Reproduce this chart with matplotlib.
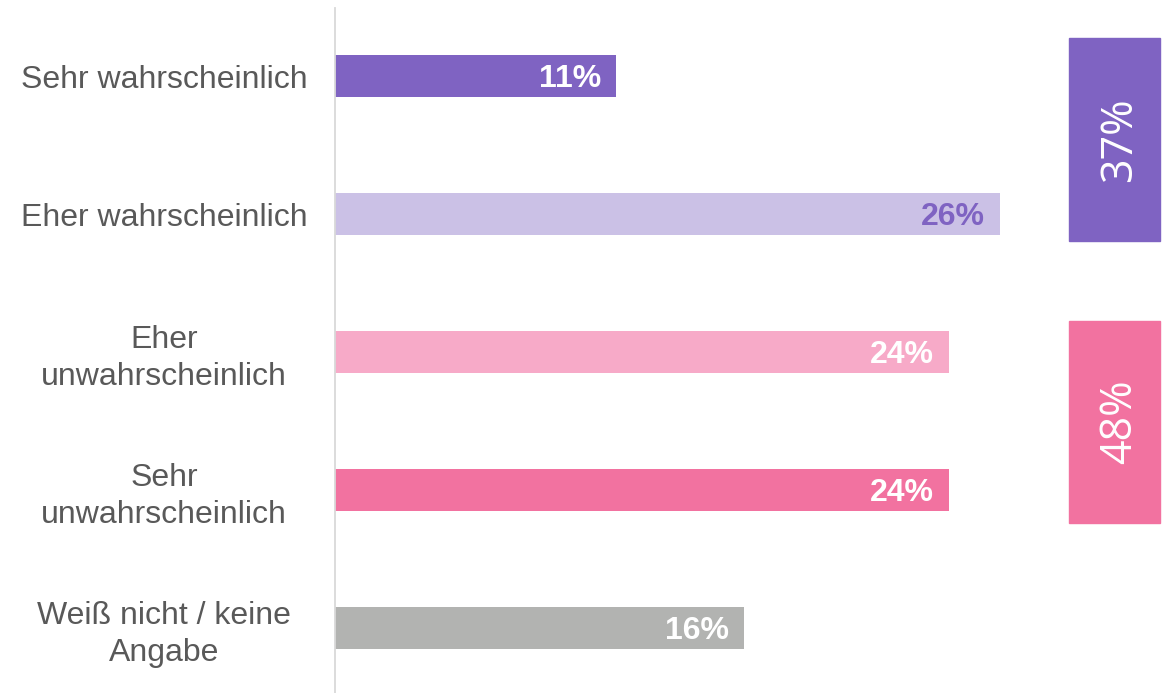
import matplotlib.pyplot as plt
from matplotlib.patches import Rectangle

plt.rcParams['font.family'] = ['Liberation Sans', 'DejaVu Sans']

categories = ["Sehr wahrscheinlich", "Eher wahrscheinlich", "Eher\nunwahrscheinlich",
              "Sehr\nunwahrscheinlich", "Weiß nicht / keine\nAngabe"]
values = [11, 26, 24, 24, 16]
bar_colors = ["#7F63C2", "#CBC1E6", "#F7AAC8", "#F272A0", "#B2B3B1"]
label_colors = ["white", "#7F63C2", "white", "white", "white"]

# groups summed in the side boxes: (first index, last index, colour)
groups = [(0, 1, "#7F63C2"), (2, 3, "#F272A0")]
box_pads = [(0.275, 0.196), (0.225, 0.239)]

W, H = 1163, 693
fig = plt.figure(figsize=(W / 100, H / 100), dpi=100)
px = 25.58  # pixels per percent
ax = fig.add_axes([335 / W, 0, (W - 335) / W, (H - 8) / H])
ax.set_xlim(0, (W - 335) / px)
ax.set_ylim(4 + (H - 628) / 138, -(76 - 8) / 138)

y = list(range(len(values)))
ax.barh(y, values, height=0.31, color=bar_colors)
for i, v in enumerate(values):
    ax.text(v - 15 / px, i + 0.02, f"{v}%", ha="right", va="center", fontsize=23,
            fontweight="bold", color=label_colors[i])

for (a, b, c), (pt, pb) in zip(groups, box_pads):
    x0 = (1069 - 335) / px
    w = (1160 - 1069) / px
    y0 = a - pt
    y1 = b + pb
    ax.add_patch(Rectangle((x0, y0), w, y1 - y0, color=c, clip_on=False))
    total = sum(values[a:b + 1])
    ax.text(x0 + w / 2 + 5 / px, (y0 + y1) / 2, f"{total}%", rotation=90, ha="center",
            va="center", color="white", fontsize=31, family="Open Sans")

ax.set_yticks(y)
ax.set_yticklabels(categories, fontsize=23, color="#595959", ha="center",
                   linespacing=1.3)
ax.tick_params(axis="y", length=0, pad=123)
ax.set_xticks([])
for s in ["top", "right", "bottom"]:
    ax.spines[s].set_visible(False)
ax.spines["left"].set_color("#D9D9D9")
ax.spines["left"].set_linewidth(1.3)

fig.savefig("out.png", dpi=100)
